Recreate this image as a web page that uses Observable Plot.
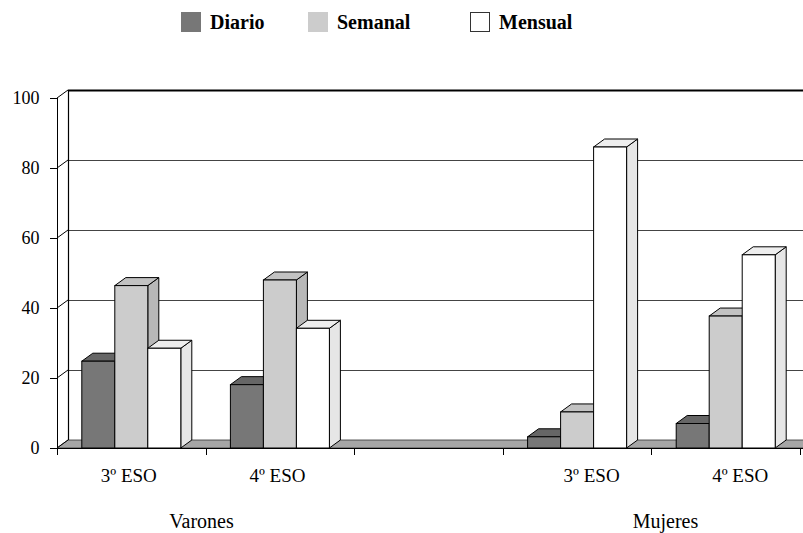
<!DOCTYPE html>
<html><head><meta charset="utf-8">
<script src="https://cdn.jsdelivr.net/npm/d3@7"></script>
<script src="https://cdn.jsdelivr.net/npm/@observablehq/plot@0.6"></script>
<style>
body{margin:0;background:#fff;}
#wrap{position:relative;width:803px;height:533px;font-family:"Liberation Serif","DejaVu Serif",serif;overflow:hidden;}
#legend{position:absolute;left:0;top:0;width:803px;height:45px;}
.li{position:absolute;top:12px;height:20px;display:flex;align-items:center;font-weight:bold;font-size:20px;color:#000;white-space:nowrap;}
.sw{width:20px;height:20px;margin-right:9px;box-sizing:border-box;flex:none;}
#chart{position:absolute;left:0;top:45px;}
</style></head>
<body><div id="wrap"><div id="legend"></div><div id="chart"></div></div>
<script>
// ---- data ----
const categories = ["V3", "V4", "gap", "M3", "M4"];
const categoryLabels = ["3º ESO", "4º ESO", "", "3º ESO", "4º ESO"];
const groupLabels = ["Varones", "Mujeres"];
const series = ["Diario", "Semanal", "Mensual"];
const diario  = [24.8, 18.1, null, 3.2, 7.0];
const semanal = [46.4, 48.0, null, 10.3, 37.7];
const mensual = [28.5, 34.2, null, 86.0, 55.2];
const yTicks = [0, 20, 40, 60, 80, 100];

// ---- styling ----
const frontColors = ["#777777", "#cccccc", "#ffffff"];
const sideColors  = ["#5e5e5e", "#b8b8b8", "#e6e6e6"];
const topColors   = ["#666666", "#c2c2c2", "#eeeeee"];
const legendLeft = [181, 308, 470];
const W = 803, H = 488, ML = 57, MR = 3, MT = 53, MB = 85;
const DX = 11, DY = 8, BARW = 33;
const bw = (W - ML - MR) / categories.length;
const off = k => bw / 2 - 1.5 * BARW + k * BARW;

const valuesBySeries = [diario, semanal, mensual];
const rows = [];
series.forEach((s, k) => categories.forEach((c, i) => {
  if (valuesBySeries[k][i] != null) rows.push({cat: c, series: s, k, value: valuesBySeries[k][i]});
}));
const labelRows = categories.map((c, i) => ({cat: c, label: categoryLabels[i]})).filter(d => d.label);

// legend
const legend = document.getElementById("legend");
series.forEach((s, k) => {
  const li = document.createElement("div");
  li.className = "li";
  li.style.left = legendLeft[k] + "px";
  const sw = document.createElement("div");
  sw.className = "sw";
  sw.style.background = frontColors[k];
  if (k === 2) sw.style.border = "1px solid #333";
  li.appendChild(sw);
  li.appendChild(document.createTextNode(s));
  legend.appendChild(li);
});

function walls(index, scales, values, dims) {
  const {x, y} = scales;
  const g = d3.create("svg:g");
  const L = dims.marginLeft, Rr = dims.width;
  const y0 = y(0);
  // floor
  g.append("path")
    .attr("d", `M${L},${y0}L${Rr + 20},${y0}L${Rr + 20},${y0 - DY}L${L + DX},${y0 - DY}Z`)
    .attr("fill", "#a6a6a6").attr("stroke", "#333").attr("stroke-width", 0.8);
  // back wall gridlines
  yTicks.filter(t => t > 0).forEach(t => {
    g.append("line")
      .attr("x1", L + DX).attr("x2", Rr + 20)
      .attr("y1", y(t) - DY + 0.5).attr("y2", y(t) - DY + 0.5)
      .attr("stroke", t === 100 ? "#000" : "#444")
      .attr("stroke-width", t === 100 ? 2 : 1);
  });
  // left side wall diagonals
  yTicks.forEach(t => {
    g.append("line")
      .attr("x1", L).attr("y1", y(t))
      .attr("x2", L + DX).attr("y2", y(t) - DY)
      .attr("stroke", "#000").attr("stroke-width", 1);
  });
  // back wall left edge
  g.append("line")
    .attr("x1", L + DX + 0.5).attr("x2", L + DX + 0.5)
    .attr("y1", y(0) - DY).attr("y2", y(100) - DY)
    .attr("stroke", "#000").attr("stroke-width", 1.2);
  return g.node();
}

function xAxisLine(index, scales, values, dims) {
  const {x, y} = scales;
  const g = d3.create("svg:g");
  const L = dims.marginLeft, y0 = y(0);
  const b = typeof x.bandwidth === "function" ? x.bandwidth() : bw;
  g.append("line").attr("x1", L).attr("x2", dims.width + 20)
    .attr("y1", y0 + 0.5).attr("y2", y0 + 0.5).attr("stroke", "#000").attr("stroke-width", 1.2);
  const bounds = categories.map(c => x(c)).concat([x(categories[categories.length - 1]) + b]);
  bounds.forEach(bx => {
    g.append("line").attr("x1", Math.round(bx) + 0.5).attr("x2", Math.round(bx) + 0.5)
      .attr("y1", y0).attr("y2", y0 + 7).attr("stroke", "#000");
  });
  return g.node();
}

function faces(k) {
  return (index, scales, values, dims) => {
    const {x, y} = scales;
    const g = d3.create("svg:g");
    rows.filter(d => d.k === k).forEach(d => {
      const xl = x(d.cat) + off(k), xr = xl + BARW;
      const yt = y(d.value), y0 = y(0);
      g.append("path")
        .attr("d", `M${xr},${y0}L${xr},${yt}L${xr + DX},${yt - DY}L${xr + DX},${y0 - DY}Z`)
        .attr("fill", sideColors[k]).attr("stroke", "#000").attr("stroke-width", 1).attr("stroke-linejoin", "round");
      g.append("path")
        .attr("d", `M${xl},${yt}L${xr},${yt}L${xr + DX},${yt - DY}L${xl + DX},${yt - DY}Z`)
        .attr("fill", topColors[k]).attr("stroke", "#000").attr("stroke-width", 1).attr("stroke-linejoin", "round");
    });
    return g.node();
  };
}

const barMarks = [];
series.forEach((s, k) => {
  barMarks.push(faces(k));
  barMarks.push(Plot.barY(rows.filter(d => d.k === k), {
    x: "cat", y: "value", fill: frontColors[k], stroke: "#000", strokeWidth: 1,
    insetLeft: off(k), insetRight: bw - off(k) - BARW
  }));
});

const chart = Plot.plot({
  width: W, height: H,
  marginLeft: ML, marginRight: MR, marginTop: MT, marginBottom: MB,
  style: {fontFamily: "'Liberation Serif', 'DejaVu Serif', serif", fontSize: "18px", color: "#000", background: "transparent", overflow: "visible"},
  x: {domain: categories, padding: 0, round: false, axis: null},
  y: {domain: [0, 100], ticks: yTicks, tickSize: 7, tickPadding: 11, label: null, line: true},
  marks: [
    walls,
    xAxisLine,
    ...barMarks,
    Plot.text(labelRows.filter(d => d.cat[0] === "V"), {x: "cat", text: "label", frameAnchor: "bottom", dy: 33, dx: -3, fontSize: 19}),
    Plot.text(labelRows.filter(d => d.cat[0] === "M"), {x: "cat", text: "label", frameAnchor: "bottom", dy: 33, dx: 14, fontSize: 19}),
    Plot.text([{cat: "V3", label: groupLabels[0]}], {x: "cat", text: "label", frameAnchor: "bottom", dy: 79, dx: bw / 2 - 4.6, fontSize: 20}),
    Plot.text([{cat: "M3", label: groupLabels[1]}], {x: "cat", text: "label", frameAnchor: "bottom", dy: 79, dx: bw / 2 + 13.6, fontSize: 20})
  ]
});
document.getElementById("chart").appendChild(chart);
</script>
</body></html>
